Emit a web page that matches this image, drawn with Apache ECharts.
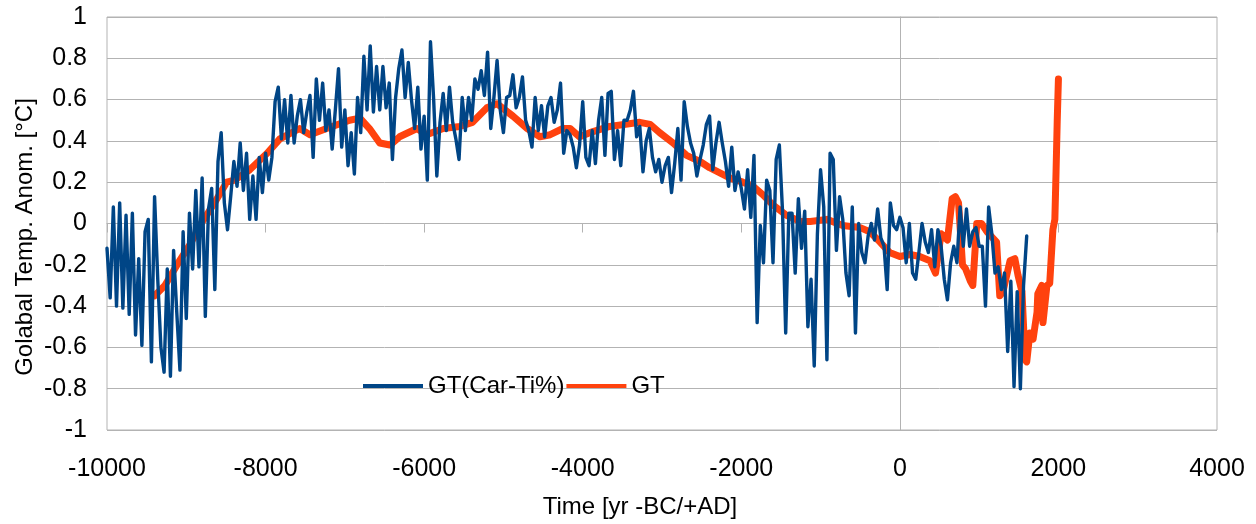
<!DOCTYPE html>
<html>
<head>
<meta charset="utf-8">
<title>Global temperature anomaly, Holocene</title>
<style>
  html, body { margin: 0; padding: 0; background: #ffffff; }
  #chart { width: 1256px; height: 524px; }
</style>
<script src="https://cdn.jsdelivr.net/npm/echarts@6.0.0/dist/echarts.min.js"></script>
</head>
<body>
<div id="chart"></div>
<script>
// Axis ranges
const xRange = { min: -10000, max: 4000, step: 2000 };
const yRange = { min: -1, max: 1, step: 0.2 };

// Axis titles and series names
const xTitle = 'Time [yr -BC/+AD]';
const yTitle = 'Golabal Temp. Anom. [°C]';
const carTiName = 'GT(Car-Ti%)';
const gtName = 'GT';

// GT(Car-Ti%): reconstruction sampled every 40 years from 10000 BC
const carTiStartYear = -10000;
const carTiStep = 40;
const carTiValues = [
  -0.12, -0.36, 0.08, -0.40, 0.10, -0.41, 0.04, -0.44, 0.05, -0.54,
  -0.17, -0.59, -0.04, 0.02, -0.67, 0.13, -0.27, -0.60, -0.72, -0.22,
  -0.74, -0.13, -0.43, -0.71, -0.04, -0.46, 0.05, -0.22, 0.16, -0.21,
  0.22, -0.45, 0.07, 0.17, -0.32, 0.30, 0.44, 0.10, -0.03, 0.13,
  0.30, 0.18, 0.39, 0.16, 0.34, 0.02, 0.23, 0.02, 0.32, 0.15,
  0.34, 0.21, 0.32, 0.59, 0.66, 0.41, 0.60, 0.39, 0.62, 0.39,
  0.52, 0.60, 0.44, 0.54, 0.62, 0.32, 0.70, 0.50, 0.68, 0.45,
  0.55, 0.36, 0.55, 0.75, 0.37, 0.55, 0.28, 0.44, 0.24, 0.61,
  0.44, 0.81, 0.55, 0.86, 0.54, 0.76, 0.55, 0.76, 0.56, 0.68,
  0.31, 0.61, 0.75, 0.84, 0.61, 0.78, 0.60, 0.46, 0.66, 0.36,
  0.52, 0.21, 0.88, 0.60, 0.23, 0.49, 0.63, 0.45, 0.66, 0.49,
  0.41, 0.31, 0.61, 0.45, 0.61, 0.50, 0.70, 0.65, 0.74, 0.62,
  0.83, 0.46, 0.61, 0.79, 0.55, 0.44, 0.61, 0.62, 0.72, 0.56,
  0.61, 0.71, 0.50, 0.45, 0.37, 0.61, 0.45, 0.57, 0.42, 0.57,
  0.61, 0.49, 0.55, 0.68, 0.34, 0.45, 0.43, 0.37, 0.27, 0.38,
  0.59, 0.32, 0.28, 0.45, 0.29, 0.50, 0.61, 0.33, 0.63, 0.64,
  0.31, 0.45, 0.28, 0.50, 0.50, 0.55, 0.64, 0.42, 0.47, 0.25,
  0.40, 0.46, 0.32, 0.25, 0.31, 0.20, 0.28, 0.32, 0.15, 0.29,
  0.46, 0.21, 0.59, 0.47, 0.39, 0.34, 0.23, 0.31, 0.38, 0.48,
  0.52, 0.26, 0.39, 0.49, 0.39, 0.30, 0.18, 0.37, 0.16, 0.25,
  0.17, 0.07, 0.26, 0.03, 0.33, -0.48, -0.01, -0.19, 0.21, 0.16,
  -0.19, 0.31, 0.38, 0.06, -0.53, 0.05, 0.05, -0.24, 0.12, -0.12,
  0.06, -0.50, -0.27, -0.69, -0.05, 0.26, 0.08, -0.66, 0.34, 0.31,
  -0.13, 0.13, 0.02, -0.24, -0.35, 0.08, -0.53, 0.00, -0.14, -0.19,
  -0.06, 0.00, -0.08, 0.07, -0.07, -0.11, -0.32, 0.10, -0.01, -0.03,
  0.03, -0.02, -0.19, 0.00, -0.24, -0.27, -0.14, 0.00, -0.09, -0.14,
  -0.03, -0.21, -0.03, -0.11, -0.27, -0.37, -0.19, -0.11, -0.19, 0.08,
  -0.11, 0.07, -0.11, -0.04, -0.02, -0.11, -0.11, -0.40, 0.08, -0.05,
  -0.24, -0.21, -0.32, -0.24, -0.62, -0.28, -0.79, -0.33, -0.80, -0.30,
  -0.06
];

// GT: smoothed global temperature series
const gtYears = [
  -9400, -9270, -9100, -8950, -8830, -8660, -8490, -8390, -8200, -7980,
  -7820, -7570, -7440, -7230, -6940, -6810, -6690, -6560, -6430, -6310,
  -6090, -5970, -5760, -5550, -5390, -5210, -5080, -4880, -4700, -4540,
  -4410, -4250, -4160, -4040, -3910, -3660, -3280, -3150, -3030, -2860,
  -2690, -2520, -2400, -2140, -1980, -1850, -1730, -1600, -1430, -1260,
  -1130, -920, -720, -500, -380, -250, -130, 0, 130, 250,
  380, 450, 520, 600, 660, 700, 740, 790, 830, 890,
  920, 970, 1030, 1100, 1220, 1260, 1300, 1390, 1450, 1490,
  1540, 1580, 1600, 1640, 1680, 1730, 1740, 1790, 1805, 1855,
  1890, 1930, 1955, 1970, 1985, 2000
];
const gtValues = [
  -0.35, -0.30, -0.19, -0.10, -0.01, 0.09, 0.20, 0.21, 0.26, 0.34,
  0.41, 0.46, 0.43, 0.46, 0.50, 0.51, 0.46, 0.39, 0.38, 0.42,
  0.46, 0.43, 0.46, 0.47, 0.49, 0.56, 0.58, 0.52, 0.46, 0.42,
  0.43, 0.46, 0.46, 0.42, 0.44, 0.47, 0.49, 0.48, 0.44, 0.39,
  0.33, 0.30, 0.27, 0.22, 0.20, 0.18, 0.14, 0.09, 0.04, 0.01,
  0.01, 0.02, -0.01, -0.02, -0.04, -0.09, -0.14, -0.16, -0.15, -0.16,
  -0.18, -0.24, -0.05, -0.08, 0.12, 0.13, 0.10, -0.20, -0.22, -0.28,
  -0.30, 0.00, 0.00, -0.04, -0.09, -0.35, -0.33, -0.18, -0.17, -0.25,
  -0.33, -0.66, -0.67, -0.53, -0.56, -0.43, -0.34, -0.30, -0.48, -0.30,
  -0.29, -0.03, 0.02, 0.25, 0.50, 0.70
];

const carTiData = carTiValues.map((v, i) => [carTiStartYear + i * carTiStep, v]);
const gtData = gtYears.map((yr, i) => [yr, gtValues[i]]);

const gridGray = '#b3b3b3';
const fontFamily = '"Liberation Sans", Arial, sans-serif';

const chart = echarts.init(document.getElementById('chart'), null, { renderer: 'canvas' });

chart.setOption({
  animation: false,
  backgroundColor: '#ffffff',
  textStyle: { fontFamily: fontFamily, color: '#000000' },
  grid: {
    left: 107, right: 39, top: 17, bottom: 94,
    show: true, borderColor: gridGray, borderWidth: 1
  },
  legend: {
    data: [carTiName, gtName],
    left: 358, top: 369,
    icon: 'rect', itemWidth: 60, itemHeight: 4, itemGap: 2,
    textStyle: { fontSize: 24, color: '#000000', fontFamily: fontFamily }
  },
  xAxis: [
    {
      // axis line through zero with downward ticks
      type: 'value', min: xRange.min, max: xRange.max, interval: xRange.step,
      axisLine: { show: true, onZero: true, lineStyle: { color: gridGray, width: 1 } },
      axisTick: { show: true, length: 9, lineStyle: { color: gridGray } },
      axisLabel: { show: false },
      splitLine: { show: false }
    },
    {
      // tick labels along the bottom edge
      type: 'value', min: xRange.min, max: xRange.max, interval: xRange.step,
      position: 'bottom',
      axisLine: { show: false, onZero: false },
      axisTick: { show: false },
      axisLabel: {
        margin: 27, fontSize: 25, color: '#000000', fontFamily: fontFamily,
        formatter: v => String(v)
      },
      splitLine: { show: false }
    }
  ],
  yAxis: {
    type: 'value', min: yRange.min, max: yRange.max, interval: yRange.step,
    axisLine: { show: true, onZero: true, lineStyle: { color: gridGray, width: 1 } },
    axisTick: { show: false },
    axisLabel: { margin: 20, fontSize: 25, color: '#000000', fontFamily: fontFamily },
    splitLine: { show: true, lineStyle: { color: gridGray, width: 1 } }
  },
  graphic: [
    {
      type: 'text', x: 25, y: 237, rotation: Math.PI / 2,
      style: {
        text: yTitle, fontSize: 24, fontFamily: fontFamily, fill: '#000000',
        align: 'center', verticalAlign: 'middle'
      }
    },
    {
      type: 'text', x: 640, y: 507,
      style: {
        text: xTitle, fontSize: 24, fontFamily: fontFamily, fill: '#000000',
        align: 'center', verticalAlign: 'middle'
      }
    }
  ],
  series: [
    {
      name: gtName, type: 'line', data: gtData,
      symbol: 'none', showSymbol: false, z: 2,
      itemStyle: { color: '#ff420e' },
      lineStyle: { color: '#ff420e', width: 7, join: 'round', cap: 'round' }
    },
    {
      name: carTiName, type: 'line', data: carTiData,
      symbol: 'none', showSymbol: false, z: 3,
      itemStyle: { color: '#004586' },
      lineStyle: { color: '#004586', width: 3.4, join: 'round', cap: 'round' }
    }
  ]
});
</script>
</body>
</html>
